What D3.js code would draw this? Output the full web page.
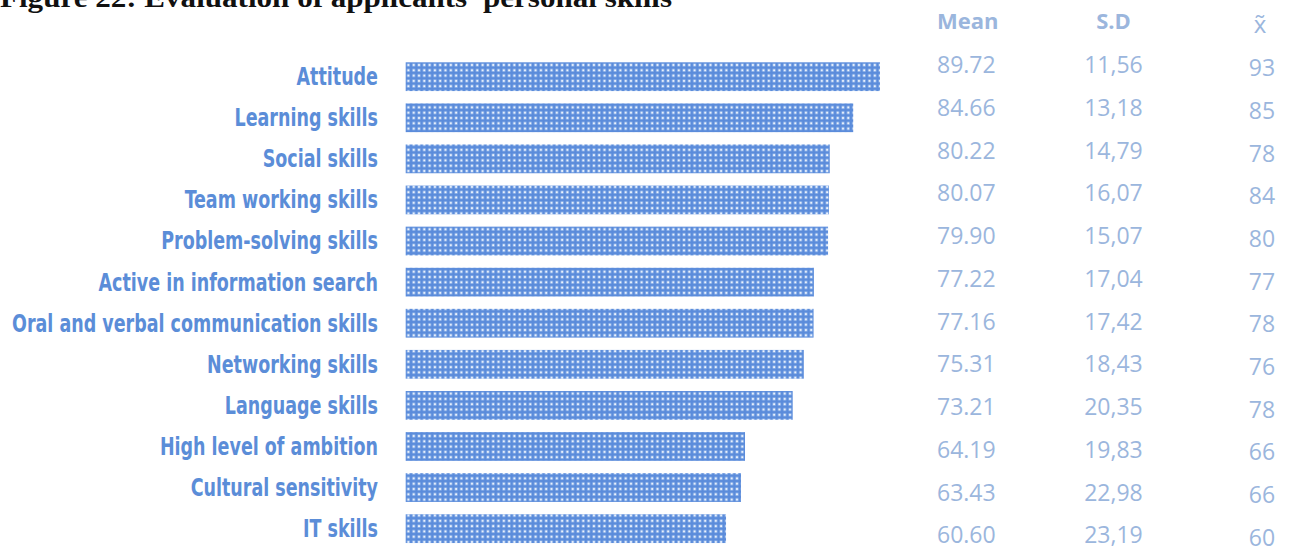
<!DOCTYPE html>
<html>
<head>
<meta charset="utf-8">
<script src="https://cdn.jsdelivr.net/npm/d3@7"></script>
<style>
  html, body { margin: 0; padding: 0; background: #fff; }
  svg { display: block; }
</style>
</head>
<body>
<svg id="chart" width="1293" height="551"></svg>
<script>
// Personal skills, ordered as listed
const skills = [
  "Attitude",
  "Learning skills",
  "Social skills",
  "Team working skills",
  "Problem-solving skills",
  "Active in information search",
  "Oral and verbal communication skills",
  "Networking skills",
  "Language skills",
  "High level of ambition",
  "Cultural sensitivity",
  "IT skills"
];
const meanValues = [89.72, 84.66, 80.22, 80.07, 79.90, 77.22, 77.16, 75.31, 73.21, 64.19, 63.43, 60.60];
const sdLabels = ["11,56", "13,18", "14,79", "16,07", "15,07", "17,04", "17,42", "18,43", "20,35", "19,83", "22,98", "23,19"];
const medianValues = [93, 85, 78, 84, 80, 77, 78, 76, 78, 66, 66, 60];
const columnHeaders = ["Mean", "S.D", "x\u0303"];
const titleText = "Figure 22: Evaluation of applicants\u2019 personal skills";

const svg = d3.select("#chart");

const labelBlue = "#5b8dd8";
const statBlue = "#9bb6dd";

// dotted fill for the bars
const defs = svg.append("defs");
const pat = defs.append("pattern")
  .attr("id", "dots")
  .attr("patternUnits", "userSpaceOnUse")
  .attr("width", 5.3).attr("height", 5.3)
  .attr("x", 405.7).attr("y", 62.3);
pat.append("rect").attr("width", 5.3).attr("height", 5.3).attr("fill", "#5b8cdb");
pat.append("rect").attr("x", 1.3).attr("y", 1.3).attr("width", 2.8).attr("height", 2.8).attr("fill", "#a9c6ef");
pat.append("rect").attr("x", 1.9).attr("y", 1.9).attr("width", 1.6).attr("height", 1.6).attr("fill", "#f5f9ff");

// scales
const x = d3.scaleLinear().domain([0, 100]).range([405.7, 934.3]);
const y = d3.scaleBand().domain(skills).range([56.14, 549.2]).paddingInner(0.3).paddingOuter(0.15);
const rowY = d3.scaleLinear().domain([0, skills.length - 1]).range([73.3, 543.3]);
const medY = d3.scaleLinear().domain([0, skills.length - 1]).range([76.3, 545.5]);

// title (partly above the top edge)
svg.append("text")
  .attr("x", 0).attr("y", 7)
  .attr("font-family", "'Liberation Serif', 'DejaVu Serif', serif")
  .attr("font-weight", "bold")
  .attr("font-size", 27)
  .attr("fill", "#111")
  .attr("textLength", 672)
  .attr("lengthAdjust", "spacingAndGlyphs")
  .text(titleText);

// bars
svg.append("g").selectAll("rect")
  .data(skills)
  .join("rect")
  .attr("x", x(0))
  .attr("y", d => y(d))
  .attr("width", (d, i) => x(meanValues[i]) - x(0))
  .attr("height", y.bandwidth())
  .attr("fill", "url(#dots)");

// category labels
const labels = svg.append("g").selectAll("text")
  .data(skills)
  .join("text")
  .attr("x", 378)
  .attr("y", d => y(d) + y.bandwidth() / 2)
  .attr("dy", "0.35em")
  .attr("text-anchor", "end")
  .attr("font-family", "'Liberation Sans Narrow', 'DejaVu Sans Condensed', 'Liberation Sans', sans-serif")
  .attr("font-weight", "bold")
  .attr("font-size", 24)
  .attr("fill", labelBlue)
  .text(d => d);

// keep the longest label at its measured width, compressing all labels alike
const widths = labels.nodes().map(n => n.getComputedTextLength());
const factor = 366 / d3.max(widths);
labels.each(function(d, i) {
  d3.select(this).attr("textLength", widths[i] * factor).attr("lengthAdjust", "spacingAndGlyphs");
});

// column headers
const statFont = "'Open Sans', 'Noto Sans', sans-serif";
svg.append("text").attr("x", 937).attr("y", 28.7)
  .attr("font-family", statFont).attr("font-weight", "bold").attr("font-size", 22)
  .attr("fill", statBlue).text(columnHeaders[0]);
svg.append("text").attr("x", 1113.5).attr("y", 28.5).attr("text-anchor", "middle")
  .attr("font-family", statFont).attr("font-weight", "bold").attr("font-size", 22)
  .attr("fill", statBlue).text(columnHeaders[1]);
svg.append("text").attr("x", 1260).attr("y", 33.3).attr("text-anchor", "middle")
  .attr("font-family", statFont).attr("font-size", 24)
  .attr("fill", statBlue).text(columnHeaders[2]);

// mean column
svg.append("g").selectAll("text")
  .data(meanValues)
  .join("text")
  .attr("x", 937)
  .attr("y", (d, i) => rowY(i))
  .attr("font-family", statFont).attr("font-size", 23)
  .attr("fill", statBlue)
  .text(d => d.toFixed(2));

// standard deviation column
svg.append("g").selectAll("text")
  .data(sdLabels)
  .join("text")
  .attr("x", 1113.5)
  .attr("y", (d, i) => rowY(i))
  .attr("text-anchor", "middle")
  .attr("font-family", statFont).attr("font-size", 23)
  .attr("fill", statBlue)
  .text(d => d);

// median column
svg.append("g").selectAll("text")
  .data(medianValues)
  .join("text")
  .attr("x", 1262)
  .attr("y", (d, i) => medY(i))
  .attr("text-anchor", "middle")
  .attr("font-family", statFont).attr("font-size", 23)
  .attr("fill", statBlue)
  .text(d => d);
</script>
</body>
</html>
